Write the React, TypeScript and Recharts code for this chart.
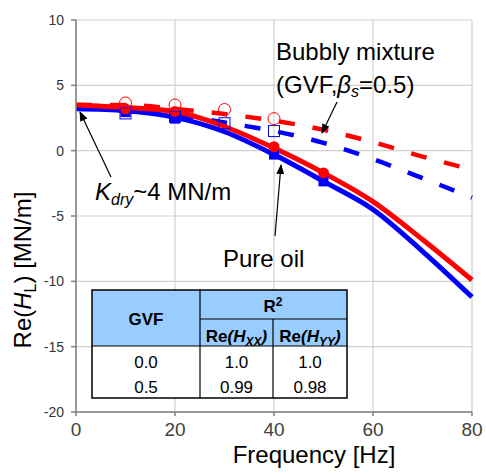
import React from 'react';
import { ComposedChart, Line, Scatter, XAxis, YAxis, CartesianGrid } from 'recharts';

// model curves (smoothed fits)
const freq = [0, 10, 20, 30, 40, 50, 60, 70, 80];
const oilHxx = [3.5, 3.3, 3.0, 1.85, 0.2, -1.7, -3.9, -6.8, -9.9];
const oilHyy = [3.2, 3.05, 2.55, 1.45, -0.3, -2.35, -4.5, -7.7, -11.2];
const bubblyHxx = [3.5, 3.5, 3.2, 2.8, 2.3, 1.6, 0.65, -0.45, -1.45];
const bubblyHyy = [3.2, 3.2, 2.8, 2.15, 1.5, 0.6, -0.65, -2.1, -3.6];

// test points
const oilTestFreq = [10, 20, 40, 50];
const oilHxxTest = [3.2, 3.0, 0.3, -1.7];
const oilHyyTest = [2.95, 2.45, -0.3, -2.35];
const bubblyTestFreq = [10, 20, 30, 40];
const bubblyHxxTest = [3.65, 3.5, 3.15, 2.45];
const bubblyHyyTest = [2.85, 2.6, 2.1, 1.5];

const xTicks = [0, 20, 40, 60, 80];
const yTicks = [-20, -15, -10, -5, 0, 5, 10];

const toPoints = (xs: number[], ys: number[]) => xs.map((x, i) => ({ x, y: ys[i] }));

const FONT = '"Liberation Sans", Arial, sans-serif';
const RED = '#ff0000';
const BLUE = '#0000ff';

const RedDot = (p: any) => <circle cx={p.cx} cy={p.cy} r={5.5} fill={RED} />;
const BlueSquare = (p: any) => <rect x={p.cx - 5} y={p.cy - 5} width={10} height={10} fill={BLUE} />;
const RedRing = (p: any) => <circle cx={p.cx} cy={p.cy} r={6} fill="none" stroke={RED} strokeWidth={1} />;
const BlueBox = (p: any) => <rect x={p.cx - 5.5} y={p.cy - 5.5} width={11} height={11} fill="none" stroke={BLUE} strokeWidth={1} />;

const Overlay = () => (
  <svg width={486} height={474} style={{ position: 'absolute', left: 0, top: 0, pointerEvents: 'none' }} fontFamily={FONT}>
    <defs>
      <marker id="arr" markerWidth="10" markerHeight="8" refX="9" refY="4" orient="auto" markerUnits="userSpaceOnUse">
        <path d="M0,0 L10,4 L0,8 Z" fill="#000" />
      </marker>
    </defs>
    <text x={276} y={60} fontSize={24} fill="#000">Bubbly mixture</text>
    <text x={276} y={93} fontSize={24} fill="#000">
      (GVF,<tspan fontStyle="italic">β</tspan><tspan fontStyle="italic" fontSize={16} dy={4}>s</tspan><tspan dy={-4}>=0.5)</tspan>
    </text>
    <line x1={337} y1={102} x2={322} y2={133} stroke="#000" strokeWidth={1.2} markerEnd="url(#arr)" />

    <text x={95} y={200} fontSize={24} fill="#000">
      <tspan fontStyle="italic">K</tspan><tspan fontStyle="italic" fontSize={16} dy={5}>dry</tspan><tspan dy={-5}>~4 MN/m</tspan>
    </text>
    <line x1={111} y1={177} x2={80} y2={112} stroke="#000" strokeWidth={1.2} markerEnd="url(#arr)" />

    <text x={223} y={267} fontSize={24} fill="#000">Pure oil</text>
    <line x1={275} y1={236} x2={281} y2={165} stroke="#000" strokeWidth={1.2} markerEnd="url(#arr)" />

    <text transform="translate(31,270) rotate(-90)" textAnchor="middle" fontSize={24} fill="#000">
      Re(<tspan fontStyle="italic">H</tspan><tspan fontSize={16} dy={5}>L</tspan><tspan dy={-5}>) [MN/m]</tspan>
    </text>
    <text x={314} y={463} textAnchor="middle" fontSize={24} fill="#000">Frequency [Hz]</text>

    {/* R² table */}
    <rect x={92} y={290} width={255} height={56} fill="#99ccff" />
    <rect x={92} y={346} width={255} height={52} fill="#fff" />
    <rect x={92} y={290} width={255} height={108} fill="none" stroke="#000" strokeWidth={1.5} />
    <line x1={200} y1={290} x2={200} y2={398} stroke="#000" strokeWidth={1.2} />
    <line x1={273} y1={319} x2={273} y2={398} stroke="#000" strokeWidth={1.2} />
    <line x1={200} y1={319} x2={347} y2={319} stroke="#000" strokeWidth={1.2} />
    <line x1={92} y1={346} x2={347} y2={346} stroke="#000" strokeWidth={1.2} />
    <g fontSize={17} fontWeight="bold" fill="#000" textAnchor="middle">
      <text x={146} y={325}>GVF</text>
      <text x={273} y={312}>R<tspan fontSize={12} dy={-6}>2</tspan></text>
      <text x={236.5} y={342}>Re<tspan fontStyle="italic">(H</tspan><tspan fontStyle="italic" fontSize={12} dy={4}>XX</tspan><tspan fontStyle="italic" dy={-4}>)</tspan></text>
      <text x={310} y={342}>Re<tspan fontStyle="italic">(H</tspan><tspan fontStyle="italic" fontSize={12} dy={4}>YY</tspan><tspan fontStyle="italic" dy={-4}>)</tspan></text>
    </g>
    <g fontSize={17} fill="#000" textAnchor="middle">
      <text x={146} y={368}>0.0</text>
      <text x={236.5} y={368}>1.0</text>
      <text x={310} y={368}>1.0</text>
      <text x={146} y={393}>0.5</text>
      <text x={236.5} y={393}>0.99</text>
      <text x={310} y={393}>0.98</text>
    </g>
  </svg>
);

export default function App() {
  return (
    <div style={{ position: 'absolute', left: 0, top: 0, width: 486, height: 474, background: '#fff' }}>
      <ComposedChart width={486} height={474} margin={{ top: 20, right: 14, left: 0, bottom: 0 }}>
        <CartesianGrid stroke="#d0d0d0" strokeWidth={1.2} />
        <XAxis
          type="number"
          dataKey="x"
          domain={[0, 80]}
          ticks={xTicks}
          height={62}
          stroke="#808080"
          strokeWidth={1.5}
          tickSize={4}
          tickMargin={7}
          tick={{ fontSize: 19, fill: '#404040', fontFamily: FONT }}
        />
        <YAxis
          type="number"
          dataKey="y"
          domain={[-20, 10]}
          ticks={yTicks}
          width={76}
          stroke="#808080"
          strokeWidth={1.5}
          tickSize={5}
          tickMargin={7}
          tick={{ fontSize: 14, fill: '#333333', fontFamily: FONT }}
        />
        <Line data={toPoints(freq, bubblyHyy)} dataKey="y" type="monotone" stroke={BLUE} strokeWidth={4.5} strokeDasharray="16 18" dot={false} isAnimationActive={false} />
        <Line data={toPoints(freq, bubblyHxx)} dataKey="y" type="monotone" stroke={RED} strokeWidth={4.5} strokeDasharray="16 18" dot={false} isAnimationActive={false} />
        <Line data={toPoints(freq, oilHyy)} dataKey="y" type="monotone" stroke={BLUE} strokeWidth={5} dot={false} isAnimationActive={false} />
        <Line data={toPoints(freq, oilHxx)} dataKey="y" type="monotone" stroke={RED} strokeWidth={5} dot={false} isAnimationActive={false} />
        <Scatter data={toPoints(oilTestFreq, oilHyyTest)} dataKey="y" shape={BlueSquare} isAnimationActive={false} />
        <Scatter data={toPoints(oilTestFreq, oilHxxTest)} dataKey="y" shape={RedDot} isAnimationActive={false} />
        <Scatter data={toPoints(bubblyTestFreq, bubblyHyyTest)} dataKey="y" shape={BlueBox} isAnimationActive={false} />
        <Scatter data={toPoints(bubblyTestFreq, bubblyHxxTest)} dataKey="y" shape={RedRing} isAnimationActive={false} />
      </ComposedChart>
      <Overlay />
    </div>
  );
}
